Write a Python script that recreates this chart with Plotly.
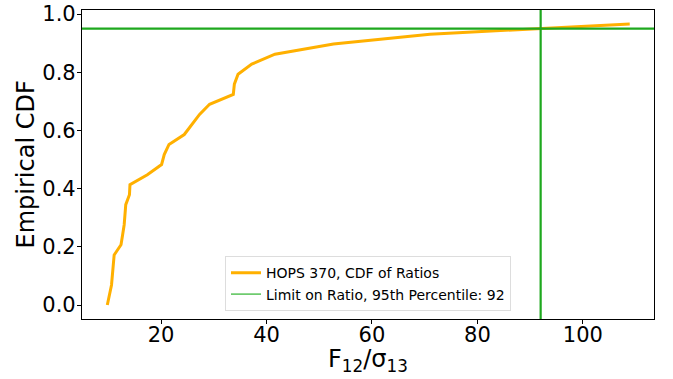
import plotly.graph_objects as go

ratio_x = [9.8, 10.6, 11.1, 12.4, 12.7, 13.0, 13.3, 14.0, 14.1, 17.4, 20.1, 20.6,
           21.5, 24.4, 27.3, 29.2, 33.7, 33.9, 34.6, 37.2, 41.6, 52.7, 71.0, 108.9]
cdf_y = [0.0, 0.069, 0.172, 0.207, 0.241, 0.276, 0.345, 0.379, 0.414, 0.448, 0.483, 0.517,
         0.552, 0.586, 0.655, 0.690, 0.724, 0.759, 0.793, 0.828, 0.862, 0.897, 0.931, 0.966]
limit_value = 92
percentile_level = 0.95
x_ticks = [20, 40, 60, 80, 100]
y_ticks = [0.0, 0.2, 0.4, 0.6, 0.8, 1.0]

orange = "#ffb000"
green = "#1ea81e"
font = "DejaVu Sans"

fig = go.Figure()
fig.add_trace(go.Scatter(x=ratio_x, y=cdf_y, mode="lines",
                         line=dict(color=orange, width=3),
                         name="HOPS 370, CDF of Ratios"))
fig.add_trace(go.Scatter(x=[None], y=[None], mode="lines",
                         line=dict(color="#6fcb6f", width=1.8),
                         name=f"Limit on Ratio, 95th Percentile: {limit_value}"))

fig.add_shape(type="line", xref="x", yref="paper", x0=limit_value, x1=limit_value,
              y0=0, y1=1, line=dict(color=green, width=2.2))
fig.add_shape(type="line", xref="paper", yref="y", x0=0, x1=1,
              y0=percentile_level, y1=percentile_level, line=dict(color=green, width=2.2))

axis_common = dict(showline=True, linecolor="black", linewidth=1.2, mirror=True,
                   ticks="outside", ticklen=4, tickwidth=1, tickcolor="black",
                   showgrid=False, zeroline=False, automargin=False,
                   tickfont=dict(family=font, size=21, color="black"))

fig.update_layout(
    width=673, height=379,
    margin=dict(l=82, r=19, t=10, b=60, autoexpand=False),
    plot_bgcolor="white", paper_bgcolor="white",
    font=dict(family=font, color="black"),
    xaxis=dict(range=[5.0, 113.5], tickvals=x_ticks, ticklabelstandoff=-7, **axis_common),
    yaxis=dict(range=[-0.048, 1.014], tickvals=y_ticks, tickformat=".1f",
               ticklabelstandoff=-3, **axis_common),
    legend=dict(x=0.5, xanchor="center", y=0.025, yanchor="bottom",
                bgcolor="rgba(255,255,255,0.8)", bordercolor="#dddddd", borderwidth=1,
                font=dict(family=font, size=14, color="black"),
                itemwidth=30, tracegroupgap=0),
    showlegend=True,
    annotations=[
        dict(text="F<sub>12</sub>/σ<sub>13</sub>", xref="paper", yref="paper",
             x=0.5, y=0, xanchor="center", yanchor="top", yshift=-24, showarrow=False,
             font=dict(family=font, size=24, color="black")),
        dict(text="Empirical CDF", xref="paper", yref="paper", textangle=-90,
             x=0, y=0.5, xanchor="center", yanchor="middle", xshift=-57, showarrow=False,
             font=dict(family=font, size=24, color="black")),
    ],
)

fig.write_html("out.html")
